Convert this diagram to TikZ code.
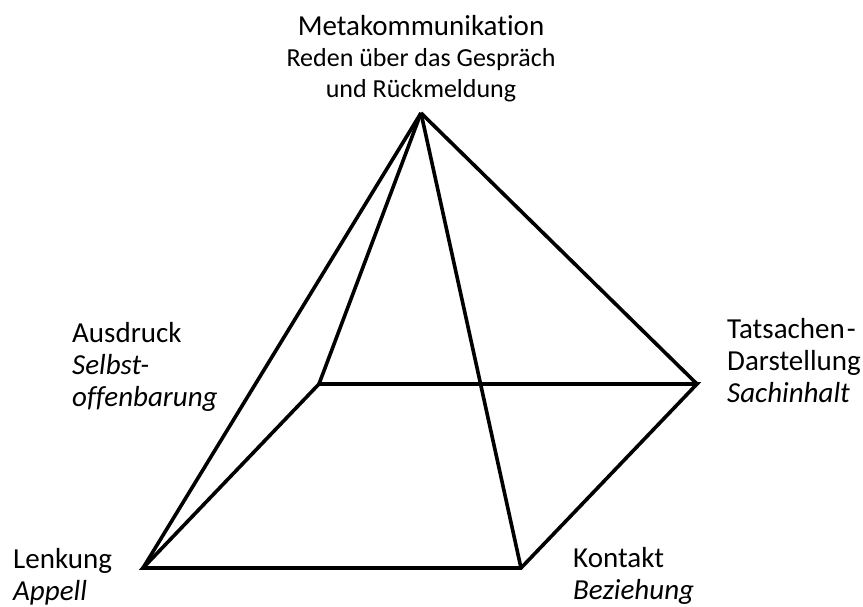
\documentclass[tikz,border=0pt]{standalone}
\usepackage{fontspec}
\setmainfont{Carlito}[Ligatures=NoCommon]
\usepackage{tikz}
\usetikzlibrary{positioning}
\tikzstyle{edge} = [line width=3.6pt, line join=miter, black]
\tikzstyle{lbl} = [inner sep=0pt, font=\fontsize{29}{32}\selectfont, anchor=base west, align=left]

\begin{document}
\begin{tikzpicture}[x=1pt, y=-1pt]
    \useasboundingbox (0,0) rectangle (863,607);

    % corners of the pyramid
    \coordinate (apex) at (421,113);
    \coordinate (bl) at (319,384);
    \coordinate (br) at (697,384);
    \coordinate (fl) at (143,568);
    \coordinate (fr) at (521,568);

    \draw [edge] (fl) -- (fr) -- (br) -- (bl) -- cycle;
    \draw [edge] (apex) -- (fl);
    \draw [edge] (apex) -- (fr);
    \draw [edge] (apex) -- (bl);
    \draw [edge] (apex) -- (br);

    % labels (base = last line)
    \node (meta) [lbl, font=\fontsize{26}{31}\selectfont, anchor=base, align=center] at (421,98) {{\fontsize{29}{33}\selectfont Metakommunikation}\\Reden über das Gespräch\\und Rückmeldung};
    \node (ausdruck) [lbl] at (72,406) {Ausdruck\\\textit{Selbst-}\\\textit{offenbarung}};
    \node (tatsachen) [lbl] at (727,402) {Tatsachen\kern2pt-\\Darstellung\\\textit{Sachinhalt}};
    \node (lenkung) [lbl] at (13,600) {Lenkung\\\textit{Appell}};
    \node (kontakt) [lbl] at (573,599) {Kontakt\\\textit{Beziehung}};
\end{tikzpicture}
\end{document}
